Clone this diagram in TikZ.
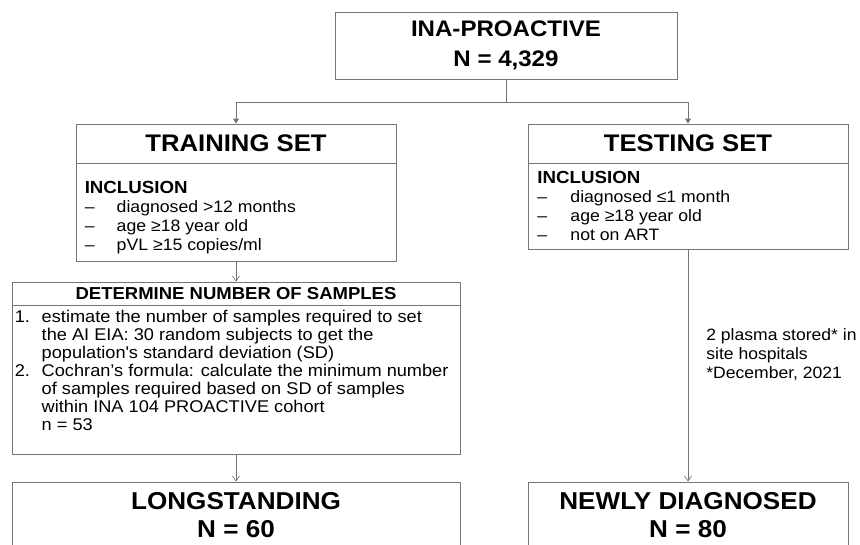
\documentclass[tikz,border=0pt]{standalone}
\usepackage{fontspec}
\setmainfont{Liberation Sans}[FakeStretch=1.07]
\usepackage{tikz}
\usetikzlibrary{arrows.meta,positioning,calc}
\definecolor{edge}{HTML}{747474}

\tikzset{
  box/.style={draw=edge, line width=0.9pt, minimum width=320pt, inner sep=0pt, align=center},
  headfont/.style={font=\bfseries\fontsize{24}{28}\selectfont},
  listtext/.style={inner sep=0pt, align=left, anchor=north west, font=\fontsize{16.5}{19}\selectfont},
  forkline/.style={draw=edge, line width=0.9pt, -{Triangle[length=5pt,width=6pt]}},
  flow/.style={draw=edge, line width=0.7pt, -{Straight Barb[length=5pt,width=7pt]}},
  note/.style={inner sep=0pt, align=left, font=\fontsize{16.4}{19}\selectfont},
}

\begin{document}
\begin{tikzpicture}[x=1pt,y=1pt]
\useasboundingbox (0,0) rectangle (860,-544);

% cohort
\node[box, minimum width=342pt, minimum height=67pt, font=\bfseries\fontsize{22.5}{30}\selectfont] (cohort) at (506,-45.5) {INA-PROACTIVE\\N = 4,329};

% training set
\node[box, headfont, minimum height=39pt] (train) at (236,-143.5) {TRAINING SET};
\node[box, minimum height=98pt, below=0pt of train] (trainbody) {};
\node[listtext, below right=18pt and 9pt of trainbody.north west] (traintext) {{\bfseries\fontsize{17.5}{19}\selectfont INCLUSION}\\
  \makebox[32pt][l]{–}diagnosed >12 months\\
  \makebox[32pt][l]{–}age ≥18 year old\\
  \makebox[32pt][l]{–}pVL ≥15 copies/ml};

% testing set
\node[box, headfont, minimum height=39pt] (test) at (688,-143.5) {TESTING SET};
\node[box, minimum height=86pt, below=0pt of test] (testbody) {};
\node[listtext, below right=7.2pt and 9.7pt of testbody.north west] (testtext) {{\bfseries\fontsize{17.5}{19}\selectfont INCLUSION}\\
  \makebox[33pt][l]{–}diagnosed ≤1 month\\
  \makebox[33pt][l]{–}age ≥18 year old\\
  \makebox[33pt][l]{–}not on ART};

% sample size
\node[box, minimum width=448pt, minimum height=23pt, font=\bfseries\fontsize{17.3}{18}\selectfont] (samples) at (236,-293.5) {DETERMINE NUMBER OF SAMPLES};
\node[box, minimum width=448pt, minimum height=149pt, below=0pt of samples] (samplesbody) {};
\node[listtext, font=\fontsize{17}{18}\selectfont, below right=4.5pt and 3pt of samplesbody.north west] (samplestext) {\makebox[27pt][l]{1.}estimate the number of samples required to set\\
  \hspace*{27pt}the AI EIA: 30 random subjects to get the\\
  \hspace*{27pt}population\textquotesingle s standard deviation (SD)\\
  \makebox[27pt][l]{2.}Cochran’s formula: calculate the minimum number\\
  \hspace*{27pt}of samples required based on SD of samples\\
  \hspace*{27pt}within INA 104 PROACTIVE cohort\\
  \hspace*{27pt}n = 53};

% outcome groups
\node[box, minimum width=448pt, minimum height=66pt, font=\bfseries\fontsize{24.4}{28}\selectfont] (longst) at (236,-515) {LONGSTANDING\\N = 60};
\node[box, minimum height=66pt, font=\bfseries\fontsize{24.4}{28}\selectfont] (newly) at (688,-515) {NEWLY DIAGNOSED\\N = 80};

% connectors
\coordinate (fork) at ($(cohort.south)+(0,-23)$);
\draw[draw=edge, line width=0.9pt] (cohort.south) -- (fork);
\draw[forkline] (fork) -| (train.north);
\draw[forkline] (fork) -| (test.north);
\draw[flow] (trainbody.south) -- (samples.north);
\draw[flow] (samplesbody.south) -- (longst.north);
\draw[flow] (testbody.south) -- node[note, pos=0.45, right=18pt] {2 plasma stored* in\\site hospitals\\*December, 2021} (newly.north);
\end{tikzpicture}
\end{document}
